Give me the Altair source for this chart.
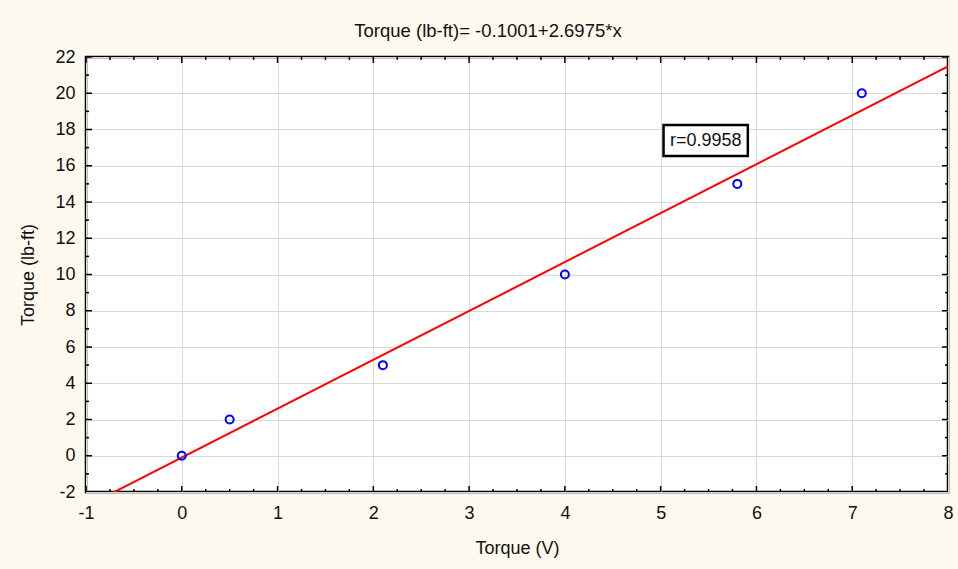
import altair as alt
import pandas as pd

# Data points
x_vals = [0.0, 0.5, 2.1, 4.0, 5.8, 7.1]
y_vals = [0.0, 2.0, 5.0, 10.0, 15.0, 20.0]

# Fitted line: Torque = -0.1001 + 2.6975*x, drawn over the x range
intercept = -0.1001
slope = 2.6975
line_x = [-1.0, 8.0]
line_y = [intercept + slope * v for v in line_x]

x_ticks = [-1, 0, 1, 2, 3, 4, 5, 6, 7, 8]
y_ticks = [-2, 0, 2, 4, 6, 8, 10, 12, 14, 16, 18, 20, 22]
x_minor = [-1 + 0.25 * i for i in range(37) if (i % 4) != 0]
y_minor = [-2 + 1 * i for i in range(25) if (i % 2) != 0]

FONT = "Liberation Sans"
BG = "#FDF9EE"
FS = 18

pts = pd.DataFrame({"x": x_vals, "y": y_vals})
ln = pd.DataFrame({"x": line_x, "y": line_y})

xs = alt.Scale(domain=[-1, 8], nice=False, zero=False)
ys = alt.Scale(domain=[-2, 22], nice=False, zero=False)

xax = alt.Axis(values=x_ticks, title="Torque (V)", labelPadding=12, titlePadding=17)
yax = alt.Axis(values=y_ticks, title="Torque (lb-ft)", labelPadding=11, titlePadding=17)

def X(f="x"):
    return alt.X(f + ":Q", scale=xs, axis=xax)

def Y(f="y"):
    return alt.Y(f + ":Q", scale=ys, axis=yax)

base_pts = alt.Chart(pts).mark_point(filled=False, color="#0000ff", size=64, strokeWidth=2, opacity=1).encode(
    x=X(), y=Y())

line = alt.Chart(ln).mark_line(color="#ff0000", strokeWidth=2, clip=True).encode(x=X(), y=Y())

def vticks(vals, yv, size):
    df = pd.DataFrame({"x": vals, "y": [yv] * len(vals)})
    return alt.Chart(df).mark_tick(orient="vertical", color="black", size=size, thickness=1.5, clip=True, opacity=1).encode(
        x=X(), y=Y())

def hticks(vals, xv, size):
    df = pd.DataFrame({"y": vals, "x": [xv] * len(vals)})
    return alt.Chart(df).mark_tick(orient="horizontal", color="black", size=size, thickness=1.5, clip=True, opacity=1).encode(
        x=X(), y=Y())

ticks = [
    vticks(x_ticks, -2, 12), vticks(x_minor, -2, 6),
    vticks(x_ticks, 22, 12), vticks(x_minor, 22, 6),
    hticks(y_ticks, -1, 12), hticks(y_minor, -1, 6),
    hticks(y_ticks, 8, 12), hticks(y_minor, 8, 6),
]

box = alt.Chart(pd.DataFrame({"x": [5.03], "x2": [5.91], "y": [18.25], "y2": [16.54]})).mark_rect(
    fill="white", stroke="black", strokeWidth=2.5).encode(
    x=X(), x2="x2:Q", y=Y(), y2="y2:Q")

rtext = alt.Chart(pd.DataFrame({"x": [5.47], "y": [17.39], "t": ["r=0.9958"]})).mark_text(
    font=FONT, fontSize=FS, color="#111", align="center", baseline="middle").encode(
    x=X(), y=Y(), text="t:N")

chart = alt.layer(line, base_pts, *ticks, box, rtext).properties(
    width=862, height=435,
    title=alt.TitleParams("Torque (lb-ft)= -0.1001+2.6975*x", font=FONT, fontSize=18.5,
                          fontWeight="normal", color="#111", anchor="middle", dx=-29, offset=8),
    autosize=alt.AutoSizeParams(type="none"),
    padding={"left": 86, "top": 57, "right": 10, "bottom": 77},
    background=BG,
).configure_view(stroke="black", strokeWidth=2.5, fill="white").configure_axis(
    grid=True, gridColor="#d9d9d9", ticks=False, domain=False, labelOverlap=False,
    labelFontSize=FS, titleFontSize=FS, titleFontWeight="normal",
    labelColor="#111", titleColor="#111", labelFont=FONT, titleFont=FONT,
    labelExpr="'' + datum.value", labelFlush=False,
)

chart.save("out.html", embed_options={"renderer": "svg", "actions": False})
